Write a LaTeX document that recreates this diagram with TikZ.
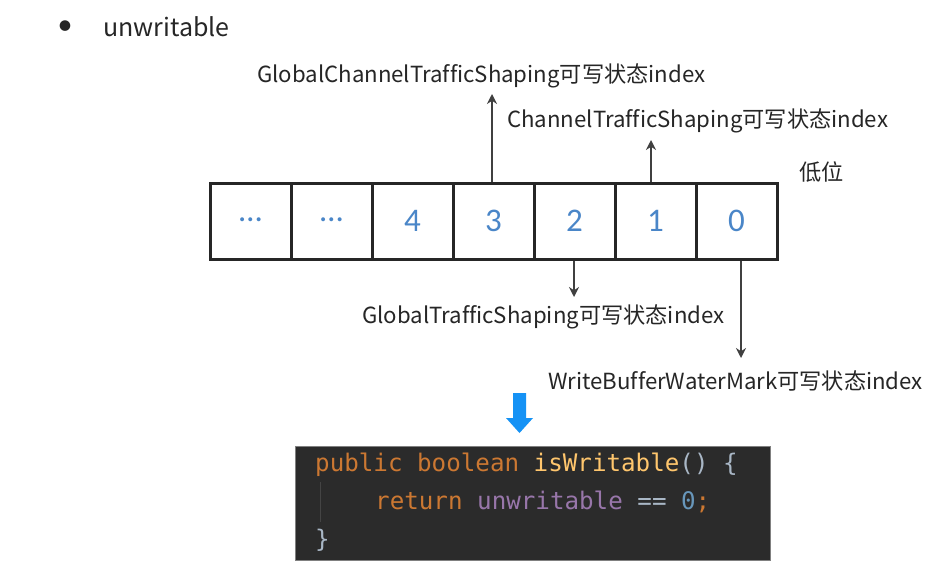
\documentclass[tikz,border=0pt]{standalone}
\usepackage{fontspec}
\setmainfont{Noto Sans CJK SC}[Ligatures=NoCommon]
\newfontfamily\codefont{DejaVu Sans Mono}
\newfontfamily\numfont{Carlito}
\usetikzlibrary{arrows.meta}
\definecolor{numblue}{HTML}{4A86C8}
\definecolor{arrgray}{HTML}{404040}
\definecolor{codebg}{HTML}{2B2B2B}
\definecolor{kw}{HTML}{CC7832}
\definecolor{fn}{HTML}{FFC66D}
\definecolor{plain}{HTML}{A9B7C6}
\definecolor{fld}{HTML}{9876AA}
\definecolor{numc}{HTML}{6897BB}
\definecolor{bigblue}{HTML}{1592F5}
\tikzset{
  cell/.style={draw=black!85, line width=3pt, minimum width=81pt, minimum height=76pt, inner sep=0pt, font=\numfont\fontsize{33}{36}\selectfont, text=numblue},
  lbl/.style={anchor=west, inner sep=0pt, font=\fontsize{22.2}{25}\selectfont, text=black!85},
  ptr/.style={draw=arrgray, line width=1.8pt, -{Stealth[length=10pt,width=10pt]}},
  codeline/.style={anchor=base west, inner sep=0pt, font=\codefont\fontsize{24.2}{28}\selectfont},
}
\begin{document}
\begin{tikzpicture}[x=1pt,y=-1pt]
\useasboundingbox (0,0) rectangle (927,581);
\fill[white] (0,0) rectangle (927,581);
% title
\node[inner sep=0pt, font=\numfont\fontsize{30}{34}\selectfont, text=black!85] (bul) at (65,28) {•};
\node[lbl, font=\fontsize{25}{28}\selectfont] (title) at (103,27) {unwritable};
% cells
\node[cell] (c6) at (250.5,221) {\raisebox{2pt}{…}};
\node[cell] (c5) at (331.5,221) {\raisebox{2pt}{…}};
\node[cell] (c4) at (412.5,221) {4};
\node[cell] (c3) at (493.5,221) {3};
\node[cell] (c2) at (574.5,221) {2};
\node[cell] (c1) at (655.5,221) {1};
\node[cell] (c0) at (736.5,221) {0};
% labels
\node[lbl] (lgc) at (257,76) {GlobalChannelTrafficShaping可写状态index};
\node[lbl] (lc) at (507,121) {ChannelTrafficShaping可写状态index};
\node[lbl] (low) at (799,172) {低位};
\node[lbl] (lg) at (362,317) {GlobalTrafficShaping可写状态index};
\node[lbl] (lw) at (548,381) {WriteBufferWaterMark可写状态index};
% pointer arrows
\coordinate (a3) at (492,94);
\coordinate (a1) at (651,140);
\coordinate (a2) at (574,297);
\coordinate (a0) at (741,358);
\draw[ptr] (c3.north -| a3) -- (a3);
\draw[ptr] (c1.north -| a1) -- (a1);
\draw[ptr] (c2.south -| a2) -- (a2);
\draw[ptr] (c0.south -| a0) -- (a0);
% big blue arrow
\coordinate (bb) at (519.5,433);
\fill[bigblue] (513,393) -- (526,393) -- (526,418) -- (533,418) -- (bb) -- (506,418) -- (513,418) -- cycle;
% code block
\node[draw=black!50, line width=1pt, fill=codebg, minimum width=475pt, minimum height=114pt, inner sep=0pt] (code) at (532.5,503) {};
\draw[white!12!codebg, line width=0.8pt] (320,482) -- (320,522);
\node[codeline] (l1) at (315,471) {\textcolor{kw}{public boolean }\textcolor{fn}{isWritable}\textcolor{plain}{() \{}};
\node[codeline] (l2) at (375,509) {\textcolor{kw}{return }\textcolor{fld}{unwritable }\textcolor{plain}{==}\ \textcolor{numc}{0}\textcolor{kw}{;}};
\node[codeline] (l3) at (315,547) {\textcolor{plain}{\}}};
\end{tikzpicture}
\end{document}
